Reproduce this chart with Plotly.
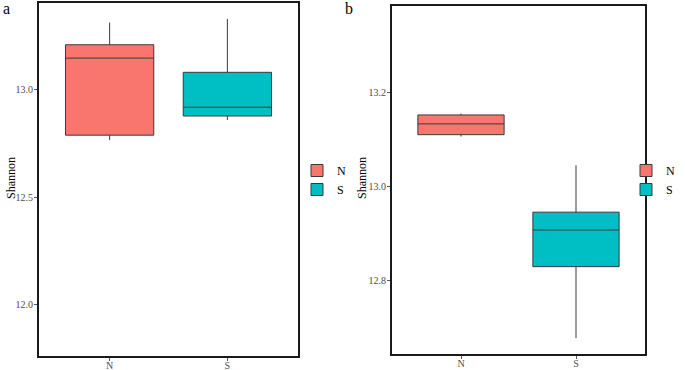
import plotly.graph_objects as go

groups = ["N", "S"]
colors = ["#F8766D", "#00BFC4"]

# Panel a (Shannon)
a_lower = [12.766, 12.859]
a_q1 = [12.789, 12.878]
a_median = [13.147, 12.919]
a_q3 = [13.209, 13.081]
a_upper = [13.312, 13.329]
a_yrange = [11.763, 13.403]
a_ticks = [12.0, 12.5, 13.0]

# Panel b (Shannon)
b_lower = [13.106, 12.677]
b_q1 = [13.110, 12.829]
b_median = [13.133, 12.907]
b_q3 = [13.152, 12.945]
b_upper = [13.155, 13.045]
b_yrange = [12.643, 13.384]
b_ticks = [12.8, 13.0, 13.2]

serif = "Liberation Serif, Times New Roman, serif"
fig = go.Figure()

for i, g in enumerate(groups):
    fig.add_trace(go.Box(
        x=[g], q1=[a_q1[i]], median=[a_median[i]], q3=[a_q3[i]],
        lowerfence=[a_lower[i]], upperfence=[a_upper[i]],
        name=g, fillcolor=colors[i], line=dict(color="#3a3a3a", width=1),
        whiskerwidth=0, width=0.75, boxpoints=False,
        xaxis="x", yaxis="y", legend="legend", hoverinfo="skip"))

for i, g in enumerate(groups):
    fig.add_trace(go.Box(
        x=[g], q1=[b_q1[i]], median=[b_median[i]], q3=[b_q3[i]],
        lowerfence=[b_lower[i]], upperfence=[b_upper[i]],
        name=g, fillcolor=colors[i], line=dict(color="#3a3a3a", width=1),
        whiskerwidth=0, width=0.75, boxpoints=False,
        xaxis="x2", yaxis="y2", legend="legend2", hoverinfo="skip"))

axis_common = dict(
    showline=True, mirror=True, linecolor="#1a1a1a", linewidth=2,
    showgrid=False, zeroline=False, ticks="outside", ticklen=3,
    tickcolor="#555555", tickwidth=1, automargin=False,
    tickfont=dict(family=serif, size=10, color="#4d4d4d"),
)

title_font = dict(family=serif, size=12, color="black")

fig.update_layout(
    width=685, height=370,
    margin=dict(l=0, r=0, t=0, b=0, autoexpand=False),
    paper_bgcolor="white", plot_bgcolor="white",
    boxmode="overlay",
    xaxis=dict(domain=[39/685, 298/685], anchor="y", type="category",
               range=[-0.6, 1.6], ticklabelstandoff=-4, **axis_common),
    yaxis=dict(domain=[1-356/370, 1-3/370], anchor="x", range=a_yrange,
               tickvals=a_ticks, ticktext=[f"{v:.1f}" for v in a_ticks],
               ticklabelstandoff=-1, **axis_common),
    xaxis2=dict(domain=[392/685, 645/685], anchor="y2", type="category",
                range=[-0.6, 1.6], ticklabelstandoff=-4, **axis_common),
    yaxis2=dict(domain=[1-354/370, 1-6/370], anchor="x2", range=b_yrange,
                tickvals=b_ticks, ticktext=[f"{v:.1f}" for v in b_ticks],
                ticklabelstandoff=-1, **axis_common),
    legend=dict(x=297/685, y=1-180/370, xanchor="left", yanchor="middle",
                font=dict(family=serif, size=12, color="black"),
                bgcolor="rgba(0,0,0,0)", itemwidth=30, tracegroupgap=0),
    legend2=dict(x=626/685, y=1-180/370, xanchor="left", yanchor="middle",
                 font=dict(family=serif, size=12, color="black"),
                 bgcolor="rgba(0,0,0,0)", itemwidth=30, tracegroupgap=0),
    annotations=[
        dict(text="a", x=0, y=1, xref="paper", yref="paper", xanchor="left",
             yanchor="top", showarrow=False, xshift=1, yshift=2,
             font=dict(family=serif, size=16, color="black")),
        dict(text="b", x=343/685, y=1, xref="paper", yref="paper", xanchor="left",
             yanchor="top", showarrow=False, yshift=2,
             font=dict(family=serif, size=16, color="black")),
        dict(text="Shannon", x=11/685, y=1-178/370, xref="paper", yref="paper",
             xanchor="center", yanchor="middle", showarrow=False, textangle=-90,
             font=title_font),
        dict(text="Shannon", x=362/685, y=1-178/370, xref="paper", yref="paper",
             xanchor="center", yanchor="middle", showarrow=False, textangle=-90,
             font=title_font),
    ],
)

fig.write_html("out.html", config={"displayModeBar": False},
               post_script="document.body.style.margin='0';document.body.style.overflow='hidden';")
